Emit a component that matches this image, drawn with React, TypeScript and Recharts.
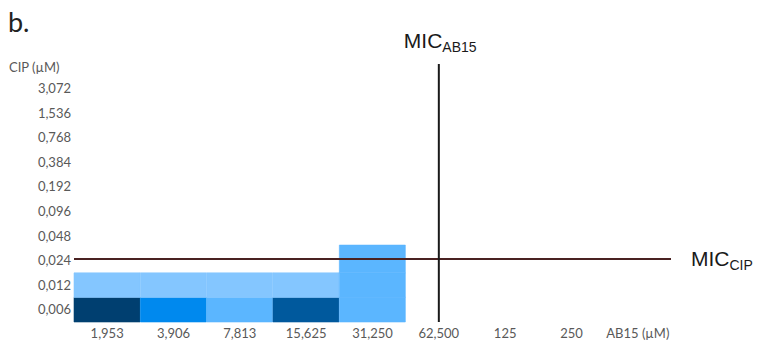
import { BarChart, Bar, XAxis, YAxis, Cell, ReferenceLine } from "recharts";

// AB15 concentrations along the bottom (last slot carries the axis title)
const doses = ["1,953", "3,906", "7,813", "15,625", "31,250", "62,500", "125", "250", "AB15 (µM)"];
// CIP concentrations, bottom row first
const cipLevels = ["0,006", "0,012", "0,024", "0,048", "0,096", "0,192", "0,384", "0,768", "1,536", "3,072"];

// filled rows of the grid (height in rows)
const row006 = [1, 1, 1, 1, 1, 0, 0, 0, 0];
const row012 = [1, 1, 1, 1, 1, 0, 0, 0, 0];
const row024 = [0, 0, 0, 0, 1.13, 0, 0, 0, 0];

const colors006 = ["#003f70", "#0089ee", "#5bb6ff", "#00599d", "#5bb6ff", "#fff", "#fff", "#fff", "#fff"];
const colors012 = ["#84c6ff", "#84c6ff", "#84c6ff", "#84c6ff", "#5bb6ff", "#fff", "#fff", "#fff", "#fff"];
const colors024 = ["#fff", "#fff", "#fff", "#fff", "#5bb6ff", "#fff", "#fff", "#fff", "#fff"];

// MIC markers
const micAb15 = "62,500";
const micCip = 2.56; // in row units, just above the 0,024 row centre

const data = doses.map((dose, i) => ({
  dose,
  r006: row006[i],
  r012: row012[i],
  r024: row024[i],
}));

const yTicks = cipLevels.map((_, i) => i + 0.5);
const tickStyle = { fontSize: 13, fill: "#595959", fontFamily: "Lato" };

const MicAb15Label = (props: any) => {
  const { viewBox } = props;
  return (
    <text x={viewBox.x - 35} y={viewBox.y - 16} fontFamily="Liberation Sans" fontSize={21} fill="#1a1a1a">
      MIC
      <tspan dy={4} fontSize={14}>AB15</tspan>
    </text>
  );
};

const MicCipLabel = (props: any) => {
  const { viewBox } = props;
  return (
    <text x={viewBox.x + viewBox.width + 20} y={viewBox.y + 7} fontFamily="Liberation Sans" fontSize={21} fill="#1a1a1a">
      MIC
      <tspan dy={4} fontSize={14}>CIP</tspan>
    </text>
  );
};

// stroke each cell in its own fill so neighbouring cells butt without seams
const cells = (colors: string[]) =>
  data.map((_, i) => <Cell key={i} fill={colors[i]} stroke={colors[i]} strokeWidth={0.6} />);

export default function App() {
  return (
    <div style={{ position: "absolute", left: 0, top: 0, width: 762, height: 346, background: "#fff" }}>
      <div style={{ position: "absolute", left: 8, top: 5, fontFamily: "Lato", fontSize: 27, color: "#222" }}>b.</div>
      <div style={{ position: "absolute", left: 9, top: 59, fontFamily: "Lato", fontSize: 13, color: "#595959" }}>
        CIP (µM)
      </div>
      <BarChart
        width={762}
        height={346}
        data={data}
        barCategoryGap={0}
        margin={{ top: 64, right: 91, bottom: 0, left: 0 }}
      >
        <XAxis
          dataKey="dose"
          interval={0}
          tickLine={false}
          axisLine={false}
          tickSize={0}
          tickMargin={7}
          height={24}
          tick={tickStyle}
        />
        <YAxis
          type="number"
          domain={[0, 10.5]}
          ticks={yTicks}
          interval={0}
          tickFormatter={(v: number) => cipLevels[Math.floor(v)]}
          tickLine={false}
          axisLine={false}
          tickSize={0}
          tickMargin={3}
          width={74}
          tick={tickStyle}
        />
        <Bar dataKey="r006" stackId="g" isAnimationActive={false}>
          {cells(colors006)}
        </Bar>
        <Bar dataKey="r012" stackId="g" isAnimationActive={false}>
          {cells(colors012)}
        </Bar>
        <Bar dataKey="r024" stackId="g" isAnimationActive={false}>
          {cells(colors024)}
        </Bar>
        <ReferenceLine y={micCip} stroke="#4a2222" strokeWidth={2} label={MicCipLabel} />
        <ReferenceLine x={micAb15} stroke="#1a1a1a" strokeWidth={2} label={MicAb15Label} />
      </BarChart>
    </div>
  );
}
